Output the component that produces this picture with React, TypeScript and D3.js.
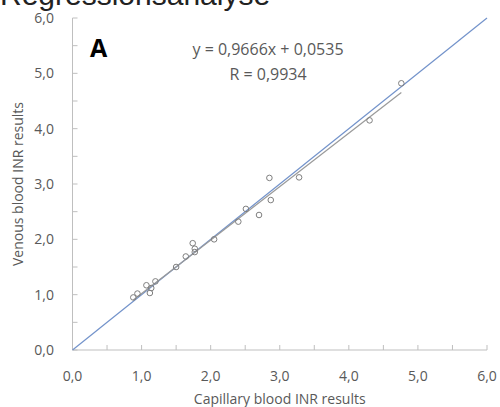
import React, { useRef, useEffect } from 'react';
import * as d3 from 'd3';

// capillary (x) vs venous (y) INR
const capillary = [0.88, 0.94, 1.07, 1.12, 1.14, 1.20, 1.50, 1.64, 1.74, 1.77, 1.77, 2.05, 2.40, 2.51, 2.70, 2.85, 2.87, 3.28, 4.30, 4.76];
const venous = [0.95, 1.02, 1.17, 1.03, 1.12, 1.24, 1.50, 1.69, 1.93, 1.83, 1.77, 2.00, 2.32, 2.55, 2.44, 3.11, 2.71, 3.12, 4.15, 4.82];

const slope = 0.9666;
const intercept = 0.0535;
const majorTicks = [0, 1, 2, 3, 4, 5, 6];
const minorTicks = [0, 0.5, 1, 1.5, 2, 2.5, 3, 3.5, 4, 4.5, 5, 5.5, 6];

const FONT = '"Open Sans", sans-serif';
const LABEL = '#595959';
const AXIS = '#bfbfbf';

const fmt = (v: number) => v.toFixed(1).replace('.', ',');

const App = () => {
  const ref = useRef<SVGSVGElement>(null);

  useEffect(() => {
    const svg = d3.select(ref.current);
    svg.selectAll('*').remove();

    const x = d3.scaleLinear().domain([0, 6]).range([72.5, 487]);
    const y = d3.scaleLinear().domain([0, 6]).range([350, 18]);

    // title, clipped at the top
    svg.append('text')
      .attr('x', 0).attr('y', 5)
      .attr('font-family', '"Liberation Sans", sans-serif')
      .attr('font-size', 30)
      .attr('fill', '#222')
      .text('Regressionsanalyse');

    // axes lines
    svg.append('line')
      .attr('x1', x(0)).attr('x2', x(6)).attr('y1', y(0)).attr('y2', y(0))
      .attr('stroke', AXIS);
    svg.append('line')
      .attr('x1', x(0)).attr('x2', x(0)).attr('y1', y(0)).attr('y2', y(6))
      .attr('stroke', AXIS);

    // ticks point inward
    svg.selectAll('.xt').data(minorTicks).enter().append('line')
      .attr('x1', d => x(d)).attr('x2', d => x(d))
      .attr('y1', y(0)).attr('y2', y(0) - 5)
      .attr('stroke', AXIS);
    svg.selectAll('.yt').data(minorTicks).enter().append('line')
      .attr('x1', x(0)).attr('x2', x(0) + 5)
      .attr('y1', d => y(d)).attr('y2', d => y(d))
      .attr('stroke', AXIS);

    svg.selectAll('.xl').data(majorTicks).enter().append('text')
      .attr('x', d => x(d)).attr('y', 381)
      .attr('text-anchor', 'middle')
      .attr('font-family', FONT).attr('font-size', 14).attr('fill', LABEL)
      .text(fmt);
    svg.selectAll('.yl').data(majorTicks).enter().append('text')
      .attr('x', 54).attr('y', d => y(d) + 5)
      .attr('text-anchor', 'end')
      .attr('font-family', FONT).attr('font-size', 14).attr('fill', LABEL)
      .text(fmt);

    svg.append('text')
      .attr('x', (x(0) + x(6)) / 2).attr('y', 404)
      .attr('text-anchor', 'middle')
      .attr('font-family', FONT).attr('font-size', 14).attr('fill', LABEL)
      .text('Capillary blood INR results');
    svg.append('text')
      .attr('transform', `translate(23,${(y(0) + y(6)) / 2}) rotate(-90)`)
      .attr('text-anchor', 'middle')
      .attr('font-family', FONT).attr('font-size', 14).attr('fill', LABEL)
      .text('Venous blood INR results');

    // line of identity
    svg.append('line')
      .attr('x1', x(0)).attr('y1', y(0)).attr('x2', x(6)).attr('y2', y(6))
      .attr('stroke', '#7393cb').attr('stroke-width', 1.2);

    // trendline over the data range
    const [xmin, xmax] = d3.extent(capillary) as [number, number];
    svg.append('line')
      .attr('x1', x(xmin)).attr('y1', y(slope * xmin + intercept))
      .attr('x2', x(xmax)).attr('y2', y(slope * xmax + intercept))
      .attr('stroke', '#9a9a9a').attr('stroke-width', 1.2);

    svg.selectAll('circle')
      .data(capillary)
      .enter().append('circle')
      .attr('cx', d => x(d))
      .attr('cy', (d, i) => y(venous[i]))
      .attr('r', 2.8)
      .attr('fill', 'none')
      .attr('stroke', '#7f7f7f')
      .attr('stroke-width', 1);

    svg.append('text')
      .attr('x', 90).attr('y', 57)
      .attr('font-family', FONT).attr('font-size', 25).attr('font-weight', 'bold')
      .attr('fill', '#000')
      .text('A');

    svg.append('text')
      .attr('x', 268).attr('y', 55)
      .attr('text-anchor', 'middle')
      .attr('font-family', FONT).attr('font-size', 16).attr('fill', LABEL)
      .text(`y = ${String(slope).replace('.', ',')}x + ${String(intercept).replace('.', ',')}`);
    svg.append('text')
      .attr('x', 268).attr('y', 80)
      .attr('text-anchor', 'middle')
      .attr('font-family', FONT).attr('font-size', 16).attr('fill', LABEL)
      .text('R = 0,9934');
  }, []);

  return (
    <svg ref={ref} width={500} height={407}
      style={{ position: 'absolute', left: 0, top: 0, background: '#fff' }} />
  );
};

export default App;
